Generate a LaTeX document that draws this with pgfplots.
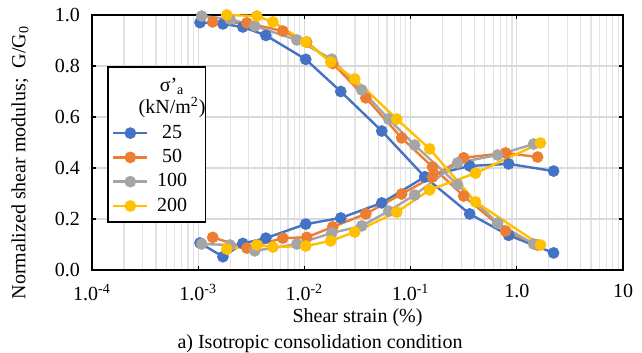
\documentclass[border=0pt]{standalone}
\usepackage{pgfplots}
\pgfplotsset{compat=1.18}
\usepackage{fontspec}
\setmainfont{Liberation Serif}
\definecolor{cblue}{HTML}{4472C4}
\definecolor{corange}{HTML}{ED7D31}
\definecolor{cgray}{HTML}{A5A5A5}
\definecolor{cgold}{HTML}{FFC000}
\definecolor{gridc}{HTML}{D9D9D9}
\definecolor{mgridc}{HTML}{E3E3E3}
\newcommand{\LE}[1]{\makebox[22.5pt][l]{\makebox[19.5pt][c]{#1}}}
\begin{document}
\begin{tikzpicture}
\begin{axis}[
  at={(46pt,41.5pt)}, anchor=south west,
  scale only axis, width=265.5pt, height=127.5pt,
  xmode=log, xmin=1e-4, xmax=10, ymin=0, ymax=1.0,
  xtick={1e-4,1e-3,1e-2,1e-1,1,10},
  xticklabels={1.0\textsuperscript{-4},1.0\textsuperscript{-3},1.0\textsuperscript{-2},1.0\textsuperscript{-1},1.0,10},
  ytick={0,0.2,0.4,0.6,0.8,1.0},
  yticklabels={0.0,0.2,0.4,0.6,0.8,1.0},
  minor y tick num=0,
  xmajorgrids=true, xminorgrids=true, ymajorgrids=true,
  grid style={gridc, line width=0.6pt},
  minor grid style={mgridc, line width=0.6pt},
  major tick length=2pt, minor tick length=0pt,
  tick align=inside,
  axis line style={line width=1pt, black},
  tick style={black, line width=0.6pt},
  tick label style={font=\fontsize{10}{12}\selectfont},
  yticklabel style={xshift=-2.5pt},
  xticklabel style={yshift=-3.5pt},
  label style={font=\fontsize{10}{12}\selectfont},
  xlabel={Shear strain (\%)},
  ylabel={Normalized shear modulus;\enspace G/G\textsubscript{0}},
  every axis x label/.style={at={(axis description cs:0.5,-0.188)}, anchor=center},
  every axis y label/.style={at={(axis description cs:-0.1356,0.4216)}, rotate=90, anchor=center},
  legend style={at={(0.028,0.8)}, anchor=north west, draw=black, line width=0.8pt,
    font=\fontsize{10}{12}\selectfont, inner sep=2pt, row sep=0pt,
    cells={line width=1.2pt}},
  legend cell align=left,
  every axis plot/.append style={line width=1.2pt, mark=*, mark size=2.3pt},
  clip=false,
]
\addlegendimage{empty legend}
\addlegendentry{\LE{\begin{tabular}[b]{@{}c@{}}σ’\textsubscript{a}\\[-1pt](kN/m\textsuperscript{2})\end{tabular}}}

% 25
\addplot[cblue, mark options={fill=cblue, solid}] coordinates {
(1.04e-3,0.970) (1.71e-3,0.965) (2.63e-3,0.953) (4.34e-3,0.920) (1.03e-2,0.826)
(2.20e-2,0.700) (5.35e-2,0.545) (0.136,0.365) (0.360,0.220) (0.838,0.136) (2.22,0.067)};
\addlegendentry{\LE{25}}
\addplot[cblue, mark options={fill=cblue, solid}, forget plot] coordinates {
(1.04e-3,0.106) (1.71e-3,0.052) (2.63e-3,0.104) (4.34e-3,0.125) (1.03e-2,0.180)
(2.20e-2,0.204) (5.35e-2,0.263) (0.136,0.365) (0.360,0.408) (0.838,0.416) (2.22,0.388)};

% 50
\addplot[corange, mark options={fill=corange, solid}] coordinates {
(1.37e-3,0.973) (2.87e-3,0.969) (6.26e-3,0.937) (1.05e-2,0.894) (1.85e-2,0.810)
(3.79e-2,0.675) (8.24e-2,0.518) (0.161,0.404) (0.316,0.290) (0.785,0.153) (1.57,0.098)};
\addlegendentry{\LE{50}}
\addplot[corange, mark options={fill=corange, solid}, forget plot] coordinates {
(1.37e-3,0.128) (2.87e-3,0.086) (6.26e-3,0.125) (1.05e-2,0.128) (1.85e-2,0.169)
(3.79e-2,0.220) (8.24e-2,0.298) (0.161,0.365) (0.316,0.440) (0.785,0.459) (1.57,0.443)};

% 100
\addplot[cgray, mark options={fill=cgray, solid}] coordinates {
(1.08e-3,0.996) (1.99e-3,0.984) (3.41e-3,0.957) (8.5e-3,0.902) (1.81e-2,0.827)
(3.47e-2,0.706) (6.22e-2,0.592) (0.109,0.490) (0.277,0.335) (0.659,0.184) (1.44,0.102)};
\addlegendentry{\LE{100}}
\addplot[cgray, mark options={fill=cgray, solid}, forget plot] coordinates {
(1.08e-3,0.102) (1.99e-3,0.098) (3.41e-3,0.075) (8.5e-3,0.102) (1.81e-2,0.145)
(3.47e-2,0.173) (6.22e-2,0.231) (0.109,0.294) (0.277,0.420) (0.659,0.451) (1.44,0.494)};

% 200
\addplot[cgold, mark options={fill=cgold, solid}] coordinates {
(1.86e-3,1.000) (3.56e-3,0.996) (5.05e-3,0.973) (1.03e-2,0.894) (1.77e-2,0.816)
(2.98e-2,0.749) (7.4e-2,0.592) (0.151,0.475) (0.409,0.267) (1.67,0.098)};
\addlegendentry{\LE{200}}
\addplot[cgold, mark options={fill=cgold, solid}, forget plot] coordinates {
(1.86e-3,0.082) (3.56e-3,0.098) (5.05e-3,0.090) (1.03e-2,0.094) (1.77e-2,0.114)
(2.98e-2,0.149) (7.4e-2,0.227) (0.151,0.314) (0.409,0.380) (1.67,0.498)};

\node[font=\fontsize{10}{12}\selectfont, anchor=center] at (axis description cs:0.4294,-0.290) {a) Isotropic consolidation condition};
\end{axis}
\pgfresetboundingbox
\path[use as bounding box] (0,0) rectangle (321pt,176.5pt);
\end{tikzpicture}
\end{document}
